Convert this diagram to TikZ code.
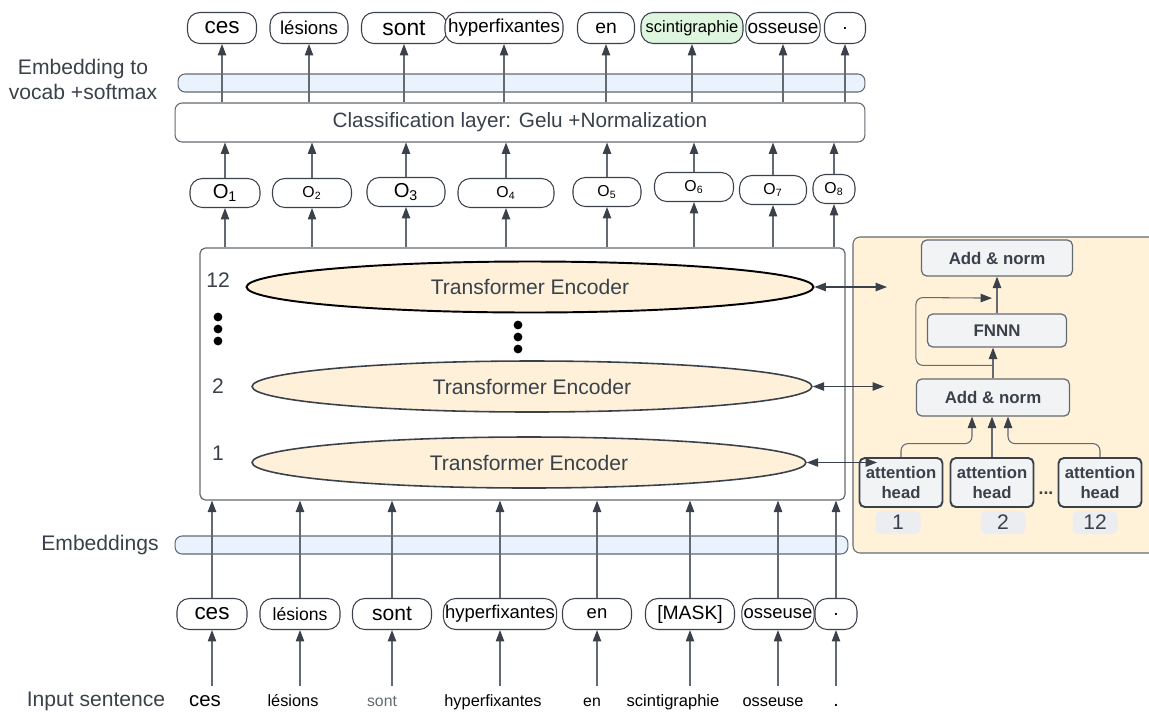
\documentclass[tikz,border=0pt]{standalone}
\usepackage{fontspec}
\setmainfont{Liberation Sans}
\usepackage{xcolor}
\usepackage{tikz}
\usetikzlibrary{arrows.meta,positioning,calc,shapes.geometric}
\definecolor{inkgray}{RGB}{58,65,74}
\definecolor{linegray}{RGB}{100,106,114}
\definecolor{barblue}{RGB}{234,242,253}
\definecolor{encpeach}{RGB}{255,241,217}
\definecolor{panelpeach}{RGB}{255,242,216}
\definecolor{boxgray}{RGB}{242,243,245}
\definecolor{taggray}{RGB}{236,237,240}
\definecolor{softgreen}{RGB}{222,245,222}
\newcommand{\fs}[1]{\fontsize{#1}{#1}\selectfont}

\begin{document}
\begin{tikzpicture}[x=0.02cm, y=-0.02cm,
  >={Triangle[length=6.5pt,width=4.8pt,color=inkgray]},
  every node/.style={font=\fs{12}, text=inkgray},
  arr/.style={draw=linegray, line width=0.6pt, ->},
  dblarr/.style={draw=inkgray, line width=0.6pt, <->},
  pill/.style={draw=inkgray, line width=0.6pt, rounded corners=7pt, fill=white, text=black, inner xsep=1pt, inner ysep=0pt},
  bar/.style={draw=linegray, line width=0.6pt, rounded corners=4pt, fill=barblue, minimum height=0.36cm, inner sep=0pt},
  enc/.style={ellipse, draw=inkgray, line width=0.9pt, fill=encpeach, minimum height=1.02cm, inner sep=0pt},
  blk/.style={draw=linegray, line width=0.7pt, rounded corners=3pt, fill=boxgray, inner sep=0pt, font=\bfseries\fs{9.6}},
  head/.style={draw=inkgray, line width=1.1pt, rounded corners=3pt, fill=boxgray, align=center, minimum width=1.66cm, minimum height=0.98cm, inner sep=0pt, font=\bfseries\fontsize{9.5}{11.4}\selectfont},
  tag/.style={fill=taggray, rounded corners=3pt, minimum width=0.9cm, minimum height=0.46cm, inner sep=0pt}
]
\useasboundingbox (0,0) rectangle (1149,711);
% Output side
\node[align=center, font=\fontsize{12}{14.2}\selectfont] (vocablbl) at (83,79) {Embedding to\\vocab +softmax};
\node[bar, minimum width=13.74cm] (vocab) at (521.5,83) {};
\node[draw=linegray, line width=0.6pt, rounded corners=4pt, fill=white, minimum width=13.8cm, minimum height=0.78cm, font=\fs{11.8}] (cls) at (520,122.5) {Classification layer: Gelu +Normalization};
\foreach \i/\x/\w/\fsz/\col/\txt in {1/222/69/12.8/white/ces, 2/309/78/10.6/white/lésions, 3/404/85/13/white/sont, 4/504/118/10.7/white/hyperfixantes, 5/606/57/11/white/en, 6/692/102/9.4/softgreen/scintigraphie, 7/783/74/10.8/white/osseuse, 8/845/41/11/white/.}
  \node[pill, fill=\col, minimum width=\w*0.02cm, minimum height=0.62cm, font=\fs{\fsz}] (out\i) at (\x,28) {\txt};
\foreach \i in {1,...,8}
  \draw[arr] (out\i.south |- cls.north) -- (out\i.south);
% Encoder outputs
\foreach \i/\x/\y/\w/\fsz in {1/225/193/70/11.5, 2/312/193/79/9, 3/406/192/78/11.5, 4/506/193/96/9, 5/607/192/68/9, 6/694/187/79/9, 7/773/190/67/9, 8/834/189/42/9}
  \node[pill, minimum width=\w*0.02cm, minimum height=0.58cm, font=\fs{\fsz}] (o\i) at (\x,\y) {O\textsubscript{\i}};
\node[draw=linegray, line width=0.7pt, rounded corners=3pt, minimum width=12.9cm, minimum height=5.04cm] (encbox) at (522.5,374) {};
\foreach \i in {1,...,8} {
  \draw[arr] (o\i.north) -- (o\i.north |- cls.south);
  \draw[arr] (o\i.south |- encbox.north) -- (o\i.south);
}
% Encoder stack
\node[enc, draw=black, line width=1.1pt, minimum width=11.34cm] (enc12) at (530,287) {Transformer Encoder};
\node[enc, minimum width=11.2cm] (enc2) at (532,386.5) {Transformer Encoder};
\node[enc, minimum width=11.08cm] (enc1) at (529,462.5) {Transformer Encoder};
\node (l12) at (218,280) {12};
\node (l2) at (218,386) {2};
\node (l1) at (218,453) {1};
\foreach \y in {317,329,341} \fill[black] (218,\y) circle (2.5pt);
\foreach \y in {325,337,349} \fill[black] (518,\y) circle (2.5pt);
% Encoder layer detail
\path[fill=panelpeach, draw=linegray, line width=0.6pt, rounded corners=4pt] (1149,237) -- (853,237) -- (853,553) -- (1149,553);
\node[blk, minimum width=3.02cm, minimum height=0.72cm] (addtop) at (997,258) {Add \& norm};
\node[blk, minimum width=2.78cm, minimum height=0.66cm] (fnnn) at (997,330.5) {FNNN};
\node[blk, minimum width=3.06cm, minimum height=0.74cm] (addmid) at (993,397.5) {Add \& norm};
\foreach \i/\x in {1/901, 2/992, 3/1100}
  \node[head] (head\i) at (\x,482.5) {attention\\head};
\foreach \i/\x/\lbl in {1/898/1, 2/1003/2, 3/1095/12}
  \node[tag] (tag\i) at (\x,522.5) {\lbl};
\node[font=\bfseries\fs{10}, inner sep=0pt] (hdots) at (1046,493) {...};
\draw[arr, rounded corners=4pt] (head1.north) |- ($(addmid.south)+(-21,27)$) -- ($(addmid.south)+(-21,0)$);
\draw[arr] (head2.north) -- (head2.north |- addmid.south);
\draw[arr, rounded corners=4pt] (head3.north) |- ($(addmid.south)+(15,27)$) -- ($(addmid.south)+(15,0)$);
\draw[arr] (addmid.north) -- (addmid.north |- fnnn.south);
\draw[arr, rounded corners=4pt] ($(addmid.north)+(0,-13)$) -| ($(fnnn.west)+(-11,-33)$) -- ($(addtop.south)+(-5,21.5)$);
\draw[arr] (fnnn.north) -- (addtop.south);
\coordinate (tap12) at (887,287);
\coordinate (tap2) at (884,386.5);
\coordinate (tap1) at (877,462.5);
\draw[dblarr] (enc12.east) -- (enc12.east -| tap12);
\draw[dblarr] (enc2.east) -- (enc2.east -| tap2);
\draw[dblarr] (enc1.east) -- (enc1.east -| tap1);
% Input side
\node (emblbl) at (100,545) {Embeddings};
\node[bar, minimum width=13.46cm] (emb) at (511.5,545) {};
\foreach \i/\x/\w/\fsz/\txt in {1/212/70/12.8/ces, 2/300/80/10/lésions, 3/392/79/12/sont, 4/500/111/10.5/hyperfixantes, 5/597/69/10.5/en, 6/690/89/11/[MASK], 7/778/70/10.5/osseuse, 8/836/42/11/.}
  \node[pill, minimum width=\w*0.02cm, minimum height=0.62cm, font=\fs{\fsz}] (tok\i) at (\x,614) {\txt};
\node[anchor=base] (inlbl) at (96,706) {Input sentence};
\foreach \i/\x/\fsz/\col/\txt in {1/205/11.6/black/ces, 2/293/9.3/black/lésions, 3/382/9/linegray/sont, 4/493/9.3/black/hyperfixantes, 5/592/9/black/en, 6/673/9.4/black/scintigraphie, 7/773/9.3/black/osseuse, 8/836/11/black/.}
  \node[anchor=base, font=\fs{\fsz}, text=\col, text height=9pt, inner sep=2pt] (in\i) at (\x,706) {\txt};
\foreach \i in {1,...,8} {
  \draw[arr] (tok\i.north) -- (tok\i.north |- encbox.south);
  \draw[arr] (tok\i.south |- in\i.north) -- (tok\i.south);
}
\end{tikzpicture}
\end{document}
